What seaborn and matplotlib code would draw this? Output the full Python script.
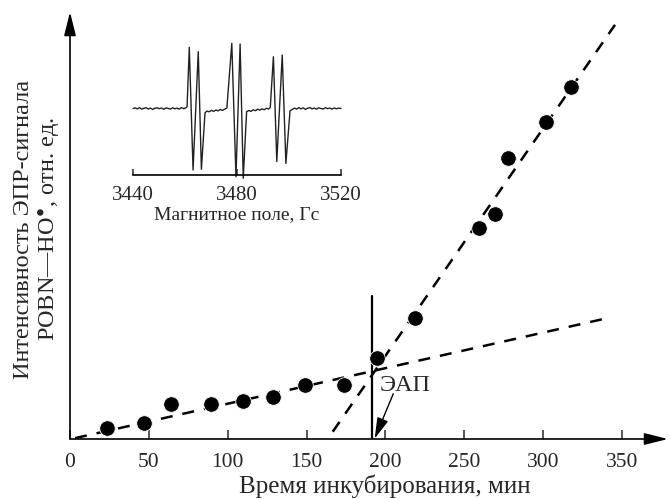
import matplotlib
matplotlib.use("Agg")
import matplotlib.pyplot as plt
import seaborn as sns
import pandas as pd

# Data (y in arbitrary units, 0..100 = axis height)
time_min = [23.7, 46.9, 64.0, 89.4, 109.5, 128.9, 149.2, 173.9,
            194.5, 218.8, 259.5, 269.5, 277.5, 301.6, 317.5]
intensity = [2.6, 3.7, 8.1, 8.1, 8.9, 9.8, 12.6, 12.6,
             19.0, 28.3, 49.5, 52.8, 65.9, 74.3, 82.5]

# dashed fit lines (end points)
slow_fit_t = [3.2, 343.0]
slow_fit_y = [0.2, 28.5]
fast_fit_t = [166.6, 345.6]
fast_fit_y = [1.7, 97.0]

# ЭАП marker
eap_t = 191.5
eap_top = 33.5
eap_label = "ЭАП"

x_ticks = [0, 50, 100, 150, 200, 250, 300, 350]

# inset EPR spectrum (field in G, amplitude in arbitrary units)
field_g = [3440.0, 3440.8, 3441.7, 3442.5, 3443.4, 3444.1, 3445.0, 3445.9, 3446.7,
           3447.6, 3448.4, 3449.3, 3450.1, 3451.0, 3451.8, 3452.7, 3453.5, 3454.4,
           3455.2, 3456.1, 3456.9, 3457.8, 3458.6, 3459.5, 3460.3, 3460.8,
           3461.65, 3463.1, 3465.1, 3466.3, 3467.7,
           3468.5, 3469.3, 3470.2, 3471.0, 3471.9, 3472.7, 3473.6, 3474.4, 3475.3, 3476.1,
           3478.0, 3479.6, 3481.2, 3482.4, 3483.7,
           3484.5, 3485.4, 3486.2, 3487.1, 3487.9, 3488.8, 3489.6, 3490.5, 3491.3, 3492.2, 3492.8,
           3494.0, 3495.3, 3497.4, 3498.8, 3500.4,
           3501.2, 3502.1, 3502.9, 3503.8, 3504.6, 3505.5, 3506.3, 3507.2, 3508.0, 3508.9,
           3509.7, 3510.6, 3511.4, 3512.3, 3513.1, 3514.0, 3514.8, 3515.7, 3516.5, 3517.4,
           3518.2, 3519.1, 3520.0]
amplitude = [0.0, 0.6, -0.4, 0.9, -0.7, 0.2, 0.8, -0.5, 0.4,
             -0.9, 0.3, 0.7, -0.2, 0.5, -0.8, 0.6, 0.1, -0.6,
             0.7, -0.3, 0.4, -0.7, 0.9, -0.2, 0.6, 2.0,
             61.2, -61.5, 56.8, -60.8, -4.2,
             -2.6, -3.3, -1.8, -2.9, -1.5, -2.4, -0.9, -1.9, -0.6, 0.5,
             65.2, -68.2, 64.5, -69.8, -3.2,
             -2.0, -2.9, -1.3, -2.2, -0.7, -1.6, -0.4, -1.2, 0.2, -0.5, 1.2,
             51.8, -53.0, 53.5, -55.0, -2.2,
             -1.0, 0.4, -0.6, 0.8, -0.3, 0.6, -0.8, 0.3, 0.9, -0.4,
             0.5, -0.7, 0.7, 0.0, -0.6, 0.8, -0.2, 0.5, -0.7, 0.6,
             -0.3, 0.4, 0.0]
inset_ticks = [3440, 3480, 3520]

# Style
sns.set_style("white")
plt.rcParams["font.family"] = ["Liberation Serif", "DejaVu Serif"]
plt.rcParams["mathtext.fontset"] = "stix"

fig = plt.figure(figsize=(6.7, 4.99), dpi=100)
W, H = 670, 499

# Main axes: x=0 at px 70, baseline at px 439, 1.577 px per minute
ax = fig.add_axes([70 / W, 1 - 439 / H, 598 / W, 427 / H])
ax.set_xlim(0, 598 / 1.577)
ax.set_ylim(0, 100)
for side in ["top", "right", "left", "bottom"]:
    ax.spines[side].set_visible(False)

# axes drawn as arrows
arrow_style = dict(arrowstyle="-|>,head_length=0.8,head_width=0.2",
                   mutation_scale=18, lw=1.2, color="black",
                   shrinkA=0, shrinkB=0)
ax.annotate("", xy=(1, 0), xytext=(0, 0), xycoords="axes fraction",
            arrowprops=arrow_style, annotation_clip=False)
ax.annotate("", xy=(0, 1), xytext=(0, 0), xycoords="axes fraction",
            arrowprops=arrow_style, annotation_clip=False)

# dashed fit lines
dash = (0, (4.8, 4.0))
ax.plot(slow_fit_t, slow_fit_y, color="black", lw=1.8, linestyle=dash, zorder=2)
ax.plot(fast_fit_t, fast_fit_y, color="black", lw=1.8, linestyle=dash, zorder=2)

# points
pts = pd.DataFrame({"t": time_min, "y": intensity})
sns.scatterplot(data=pts, x="t", y="y", ax=ax, s=125, color="black",
                edgecolor="white", linewidth=0.6, zorder=3)

# vertical line and ЭАП annotation
ax.plot([eap_t, eap_t], [0, eap_top], color="black", lw=1.6, zorder=2)
ax.text(212.5, 12.6, eap_label, ha="center", va="center", fontsize=17.5)
ax.annotate("", xy=(193.2, 0.1), xytext=(205.0, 10.6),
            arrowprops=dict(arrowstyle="-|>,head_length=0.8,head_width=0.22",
                            mutation_scale=16, lw=1.0, color="black",
                            shrinkA=0, shrinkB=0))

ax.set_yticks([])
ax.set_xticks(x_ticks)
ax.tick_params(axis="x", direction="in", length=6.5, width=1.1, pad=10,
               labelsize=15.5, bottom=True)
ax.set_xlabel("Время инкубирования, мин", fontsize=18)
ax.xaxis.set_label_coords((385 - 70) / 598, (439 - 475) / 427)
ax.set_ylabel("")

fig.text(38 / W, 1 - 229 / H,
         "Интенсивность ЭПР-сигнала\nPOBN—HO$^{•}$, отн. ед.",
         rotation=90, ha="center", va="center", multialignment="center",
         fontsize=17.5)

# Inset spectrum
ins = fig.add_axes([133 / W, 1 - 175 / H, 208 / W, 138 / H])
sns.lineplot(x=field_g, y=amplitude, ax=ins, sort=False, estimator=None,
             color="#222222", lw=1.0, clip_on=False)
ins.set_xlim(3440, 3520)
ins.set_ylim(-66.5, 71.5)
ins.patch.set_alpha(0)
for side in ["top", "right", "left"]:
    ins.spines[side].set_visible(False)
ins.spines["bottom"].set_linewidth(1.2)
ins.spines["bottom"].set_color("black")
ins.set_yticks([])
ins.set_xticks(inset_ticks)
ins.tick_params(axis="x", direction="in", length=4, width=1.1, pad=8,
                labelsize=15, bottom=True)
ins.set_xlabel("Магнитное поле, Гс", fontsize=14, labelpad=1)
ins.set_ylabel("")

fig.savefig("out.png", dpi=100)
